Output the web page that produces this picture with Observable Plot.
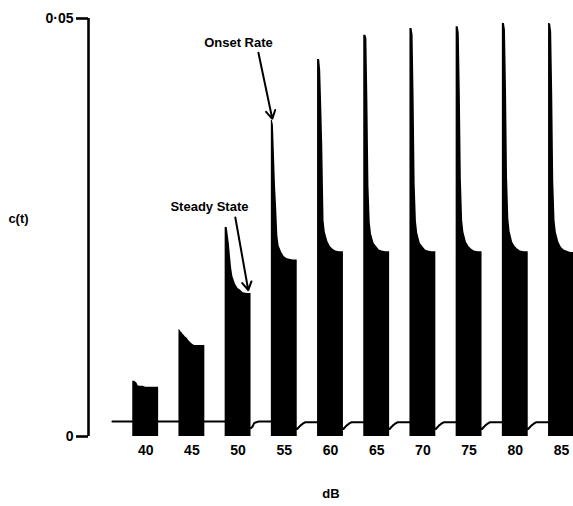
<!DOCTYPE html>
<html>
<head>
<meta charset="utf-8">
<script src="https://cdn.jsdelivr.net/npm/d3@7"></script>
<script src="https://cdn.jsdelivr.net/npm/@observablehq/plot@0.6"></script>
<style>
  html, body { margin: 0; padding: 0; background: #fff; }
  #chart svg { display: block; }
</style>
</head>
<body>
<div id="chart"></div>
<script>
// Stimulus levels (dB) and their tick labels
const levels = [40, 45, 50, 55, 60, 65, 70, 75, 80, 85];
const tickLabels = ["40", "45", "50", "55", "60", "65", "70", "75", "80", "85"];

// y-axis ticks
const yTickValues = [0, 0.05];
const yTickLabels = ["0", "0·05"];

// Sample times within each stimulus (fraction of stimulus duration)
const stimTime = [0, 0.04, 0.08, 0.12, 0.16, 0.2, 0.25, 0.3, 0.4, 0.5, 0.6, 0.7, 0.85, 1];

// c(t) during each stimulus (one row per level)
const responses = [
  [0.0066, 0.0066, 0.0066, 0.0065, 0.0064, 0.0061, 0.0060, 0.0060, 0.0060, 0.0059, 0.0059, 0.0059, 0.0059, 0.0059], // 40
  [0.0128, 0.0127, 0.0125, 0.0124, 0.0122, 0.0121, 0.0119, 0.0118, 0.0114, 0.0111, 0.0109, 0.0109, 0.0109, 0.0109], // 45
  [0.0250, 0.0250, 0.0250, 0.0240, 0.0231, 0.0217, 0.0201, 0.0191, 0.0182, 0.0177, 0.0175, 0.0172, 0.0171, 0.0171], // 50
  [0.0378, 0.0378, 0.0372, 0.0336, 0.0300, 0.0276, 0.0240, 0.0228, 0.0220, 0.0215, 0.0213, 0.0212, 0.0211, 0.0211], // 55
  [0.0451, 0.0451, 0.0451, 0.0438, 0.0396, 0.0348, 0.0258, 0.0244, 0.0233, 0.0227, 0.0224, 0.0222, 0.0221, 0.0221], // 60
  [0.0480, 0.0480, 0.0480, 0.0476, 0.0400, 0.0300, 0.0256, 0.0242, 0.0231, 0.0227, 0.0223, 0.0222, 0.0221, 0.0221], // 65
  [0.0488, 0.0488, 0.0488, 0.0480, 0.0405, 0.0302, 0.0257, 0.0243, 0.0231, 0.0227, 0.0223, 0.0222, 0.0221, 0.0221], // 70
  [0.0490, 0.0490, 0.0490, 0.0482, 0.0410, 0.0308, 0.0258, 0.0244, 0.0232, 0.0227, 0.0224, 0.0222, 0.0221, 0.0221], // 75
  [0.0494, 0.0494, 0.0494, 0.0486, 0.0415, 0.0310, 0.0260, 0.0245, 0.0232, 0.0227, 0.0224, 0.0222, 0.0221, 0.0221], // 80
  [0.0494, 0.0494, 0.0493, 0.0484, 0.0410, 0.0305, 0.0258, 0.0244, 0.0232, 0.0226, 0.0223, 0.0222, 0.0220, 0.0220]  // 85
];

// Spontaneous level before the first stimulus
const spontaneous = 0.0018;
// Sample times after each stimulus offset (fraction of stimulus duration)
const recoveryTime = [0, 0.06, 0.12, 0.2, 0.3];
// c(t) after each stimulus offset (one row per level)
const recovery = [
  [0.0018, 0.0018, 0.0018, 0.0018, 0.0018],
  [0.0018, 0.0018, 0.0018, 0.0018, 0.0018],
  [0.0010, 0.0012, 0.0016, 0.0017, 0.0018],
  [0.0009, 0.0011, 0.0013, 0.0015, 0.0017],
  [0.0009, 0.0011, 0.0013, 0.0015, 0.0017],
  [0.0009, 0.0011, 0.0013, 0.0015, 0.0017],
  [0.0009, 0.0011, 0.0013, 0.0015, 0.0017],
  [0.0009, 0.0011, 0.0013, 0.0015, 0.0017],
  [0.0009, 0.0011, 0.0013, 0.0015, 0.0017],
  [0.0009, 0.0011, 0.0013, 0.0015, 0.0017]
];

// Annotation labels and arrows (data coordinates)
const annotationText = ["Onset Rate", "Steady State"];
const annotationX = [50.04, 46.9];
const annotationY = [0.0471, 0.0275];
const arrowFromX = [52.2, 49.7];
const arrowFromY = [0.0459, 0.0262];
const arrowToX = [53.7, 51.1];
const arrowToY = [0.0380, 0.0175];

// ---- layout constants ----
const xDomain = [33.81, 86.30];
const halfDur = 1.4;          // half of each stimulus window, in x units
const traceStart = 36.4;      // where the recorded trace begins

// ---- build mark data ----
const bars = levels.flatMap((L, i) =>
  stimTime.map((t, j) => ({level: L, x: L - halfDur + t * 2 * halfDur, c: responses[i][j]}))
);

const trace = [{x: traceStart, c: spontaneous}];
let prev = spontaneous;
levels.forEach((L, i) => {
  trace.push({x: L - halfDur, c: prev});
  recoveryTime.forEach((t, j) => trace.push({x: L + halfDur + t * 2 * halfDur, c: recovery[i][j]}));
  prev = recovery[i][recovery[i].length - 1];
});

const annotations = annotationText.map((s, i) => ({
  text: s, x: annotationX[i], y: annotationY[i],
  x1: arrowFromX[i], y1: arrowFromY[i], x2: arrowToX[i], y2: arrowToY[i]
}));

const font = "'Liberation Sans', Arial, Helvetica, sans-serif";

const chart = Plot.plot({
  width: 573,
  height: 506,
  marginLeft: 88,
  marginRight: 0,
  marginTop: 18,
  marginBottom: 70,
  x: {domain: xDomain, axis: null},
  y: {domain: [0, 0.05], axis: null},
  style: {fontFamily: font, background: "#fff", color: "#000", overflow: "visible"},
  marks: [
    Plot.line(trace, {x: "x", y: "c", stroke: "#000", strokeWidth: 2}),
    Plot.areaY(bars, {x: "x", y: "c", z: "level", fill: "#000", curve: "linear"}),
    Plot.ruleX([xDomain[0]], {y1: 0, y2: 0.05, stroke: "#000", strokeWidth: 2.6}),
    Plot.axisY(yTickValues, {
      tickSize: 12, tickPadding: 3, strokeWidth: 2.6, fontSize: 14, fontWeight: "bold",
      tickFormat: d => yTickLabels[yTickValues.indexOf(d)], label: null
    }),
    Plot.axisX(levels, {
      tickSize: 0, tickPadding: 9, fontSize: 14, fontWeight: "bold",
      tickFormat: d => tickLabels[levels.indexOf(d)], label: null
    }),
    Plot.text(["c(t)"], {frameAnchor: "left", textAnchor: "middle", dx: -70, dy: -9, fontSize: 13, fontWeight: "bold", fill: "#000"}),
    Plot.text(["dB"], {frameAnchor: "bottom", dy: 61, fontSize: 13, fontWeight: "bold", fill: "#000"}),
    Plot.text(annotations, {x: "x", y: "y", text: "text", fontSize: 13, fontWeight: "bold", fill: "#000"}),
    Plot.arrow(annotations, {x1: "x1", y1: "y1", x2: "x2", y2: "y2", stroke: "#000", strokeWidth: 2, headLength: 7})
  ]
});

document.getElementById("chart").appendChild(chart);
</script>
</body>
</html>
